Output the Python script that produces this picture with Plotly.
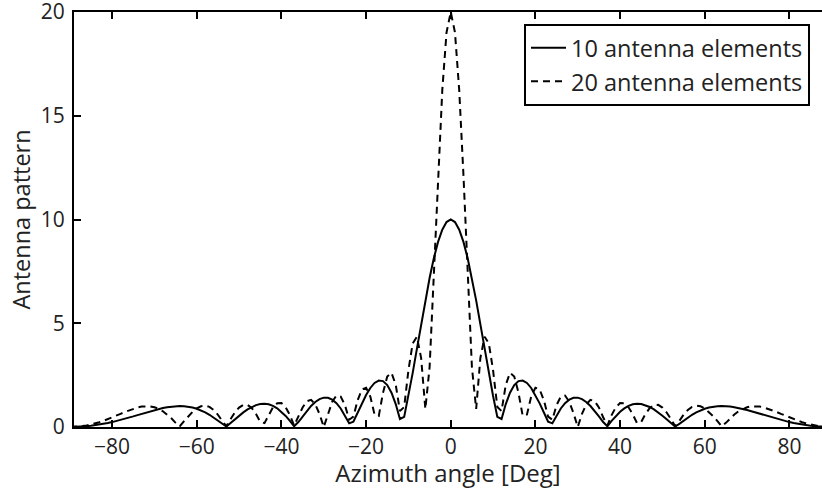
import plotly.graph_objects as go

# Azimuth angle grid [deg]
angle_deg = list(range(-90, 91))

# Antenna pattern, 10 elements
pattern_10 = [
    0.000, 0.002, 0.010, 0.022, 0.038, 0.060, 0.086, 0.117, 0.152, 0.192,
    0.236, 0.285, 0.337, 0.392, 0.450, 0.511, 0.573, 0.635, 0.697, 0.758,
    0.816, 0.869, 0.916, 0.956, 0.987, 1.007, 1.013, 1.005, 0.981, 0.940,
    0.880, 0.802, 0.705, 0.590, 0.457, 0.309, 0.148, 0.023, 0.198, 0.374,
    0.545, 0.705, 0.847, 0.966, 1.055, 1.109, 1.123, 1.094, 1.019, 0.899,
    0.735, 0.532, 0.296, 0.035, 0.239, 0.514, 0.777, 1.012, 1.206, 1.344,
    1.414, 1.408, 1.319, 1.146, 0.892, 0.565, 0.177, 0.252, 0.700, 1.140,
    1.544, 1.881, 2.122, 2.240, 2.211, 2.018, 1.650, 1.104, 0.386, 0.487,
    1.493, 2.599, 3.765, 4.949, 6.102, 7.179, 8.132, 8.921, 9.511, 9.876,
    10.000,
    9.876, 9.511, 8.921, 8.132, 7.179, 6.102, 4.949, 3.765, 2.599, 1.493,
    0.487, 0.386, 1.104, 1.650, 2.018, 2.211, 2.240, 2.122, 1.881, 1.544,
    1.140, 0.700, 0.252, 0.177, 0.565, 0.892, 1.146, 1.319, 1.408, 1.414,
    1.344, 1.206, 1.012, 0.777, 0.514, 0.239, 0.035, 0.296, 0.532, 0.735,
    0.899, 1.019, 1.094, 1.123, 1.109, 1.055, 0.966, 0.847, 0.705, 0.545,
    0.374, 0.198, 0.023, 0.148, 0.309, 0.457, 0.590, 0.705, 0.802, 0.880,
    0.940, 0.981, 1.005, 1.013, 1.007, 0.987, 0.956, 0.916, 0.869, 0.816,
    0.758, 0.697, 0.635, 0.573, 0.511, 0.450, 0.392, 0.337, 0.285, 0.236,
    0.192, 0.152, 0.117, 0.086, 0.060, 0.038, 0.022, 0.010, 0.002, 0.000,
]

# Antenna pattern, 20 elements
pattern_20 = [
    0.000, 0.005, 0.019, 0.043, 0.076, 0.119, 0.171, 0.232, 0.301, 0.377,
    0.460, 0.546, 0.634, 0.722, 0.804, 0.879, 0.940, 0.983, 1.002, 0.994,
    0.952, 0.875, 0.759, 0.605, 0.417, 0.199, 0.038, 0.283, 0.519, 0.730,
    0.896, 1.000, 1.027, 0.968, 0.820, 0.590, 0.293, 0.045, 0.389, 0.700,
    0.938, 1.067, 1.062, 0.913, 0.631, 0.247, 0.188, 0.610, 0.950, 1.145,
    1.151, 0.953, 0.574, 0.070, 0.469, 0.941, 1.245, 1.306, 1.092, 0.629,
    0.000, 0.666, 1.218, 1.517, 1.470, 1.059, 0.352, 0.498, 1.290, 1.809,
    1.893, 1.470, 0.599, 0.535, 1.651, 2.432, 2.610, 2.040, 0.767, 0.964,
    2.734, 4.027, 4.347, 3.334, 0.867, 2.877, 7.439, 12.145, 16.235, 19.014,
    20.000,
    19.014, 16.235, 12.145, 7.439, 2.877, 0.867, 3.334, 4.347, 4.027, 2.734,
    0.964, 0.767, 2.040, 2.610, 2.432, 1.651, 0.535, 0.599, 1.470, 1.893,
    1.809, 1.290, 0.498, 0.352, 1.059, 1.470, 1.517, 1.218, 0.666, 0.000,
    0.629, 1.092, 1.306, 1.245, 0.941, 0.469, 0.070, 0.574, 0.953, 1.151,
    1.145, 0.950, 0.610, 0.188, 0.247, 0.631, 0.913, 1.062, 1.067, 0.938,
    0.700, 0.389, 0.045, 0.293, 0.590, 0.820, 0.968, 1.027, 1.000, 0.896,
    0.730, 0.519, 0.283, 0.038, 0.199, 0.417, 0.605, 0.759, 0.875, 0.952,
    0.994, 1.002, 0.983, 0.940, 0.879, 0.804, 0.722, 0.634, 0.546, 0.460,
    0.377, 0.301, 0.232, 0.171, 0.119, 0.076, 0.043, 0.019, 0.005, 0.000,
]

series_names = ["10 antenna elements", "20 antenna elements"]
x_ticks = [-80, -60, -40, -20, 0, 20, 40, 60, 80]
y_ticks = [0, 5, 10, 15, 20]

FONT = "'Open Sans', 'Noto Sans', sans-serif"
TXT = "#222222"

fig = go.Figure()
fig.add_trace(go.Scatter(
    x=angle_deg, y=pattern_10, mode="lines", name=series_names[0],
    line=dict(color="black", width=2, dash="solid"),
))
fig.add_trace(go.Scatter(
    x=angle_deg, y=pattern_20, mode="lines", name=series_names[1],
    line=dict(color="black", width=2, dash="7px,5px"),
))

fig.update_layout(
    width=822, height=489,
    margin=dict(l=74, r=0, t=12, b=62, autoexpand=False),
    paper_bgcolor="white", plot_bgcolor="white",
    font=dict(family=FONT, size=21, color=TXT),
    showlegend=True,
    legend=dict(
        x=0.6016, y=0.971, xanchor="left", yanchor="top",
        bgcolor="white", bordercolor="black", borderwidth=2,
        font=dict(family=FONT, size=23.5, color=TXT),
        tracegroupgap=0, itemwidth=35,
    ),
)

fig.update_xaxes(
    range=[-89.0, 87.7], tickvals=x_ticks,
    showline=True, linecolor="black", linewidth=2, mirror="ticks",
    ticks="inside", ticklen=7, tickwidth=2, tickcolor="black",
    showgrid=False, zeroline=False, ticklabeloverflow="allow",
    tickfont=dict(family=FONT, size=21, color=TXT),
    title=dict(text="Azimuth angle [Deg]", font=dict(family=FONT, size=24, color=TXT), standoff=5),
)
fig.update_yaxes(
    range=[0, 20], tickvals=y_ticks,
    showline=True, linecolor="black", linewidth=2, mirror=False,
    ticks="inside", ticklen=7, tickwidth=2, tickcolor="black",
    showgrid=False, zeroline=False, ticklabeloverflow="allow",
    ticklabelstandoff=3,
    tickfont=dict(family=FONT, size=21, color=TXT),
    title=dict(text="Antenna pattern", font=dict(family=FONT, size=23.5, color=TXT), standoff=4),
)

fig.write_html(
    "out.html",
    config={"displayModeBar": False},
    post_script="document.body.style.margin='0px';",
)
